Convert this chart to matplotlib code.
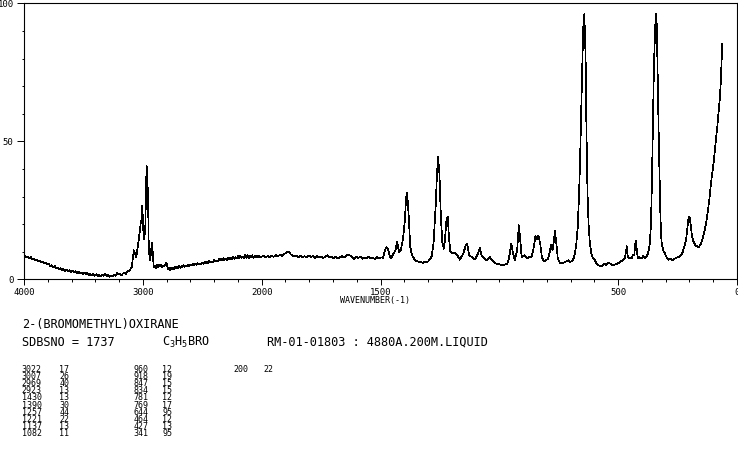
import numpy as np
import matplotlib
matplotlib.use("Agg")
import matplotlib.pyplot as plt
from matplotlib.ticker import FixedLocator, FixedFormatter, NullFormatter

plt.rcParams['font.family'] = ['DejaVu Sans Mono', 'DejaVu Sans']
plt.rcParams['mathtext.fontset'] = 'dejavusans'

# ---------------- text ----------------
compound_name = "2-(BROMOMETHYL)OXIRANE"
sdbs_no = "SDBSNO = 1737"
formula = r"$\mathtt{C_3H_5BRO}$"
conditions = "RM-01-01803 : 4880A.200M.LIQUID"
x_label = "WAVENUMBER(-1)"

x_major_ticks = [4000, 3000, 2000, 1500, 500, 0]
x_major_labels = ["4000", "3000", "2000", "1500", "500", "0"]
x_minor_ticks = list(range(4000, 2000, -200)) + list(range(2000, -1, -100))
y_major_ticks = [0, 50, 100]
y_major_labels = ["0", "50", "100"]
y_minor_ticks = list(range(0, 101, 10))

# peak table (wavenumber, intensity) columns
peak_wn_1 = [3022, 3007, 2969, 2923, 1430, 1390, 1257, 1221, 1137, 1082]
peak_int_1 = [17, 26, 40, 13, 13, 30, 44, 22, 13, 11]
peak_wn_2 = [960, 918, 847, 834, 781, 769, 644, 464, 427, 341]
peak_int_2 = [12, 19, 15, 15, 12, 17, 95, 12, 13, 95]
peak_wn_3 = [200]
peak_int_3 = [22]

# ---------------- spectrum (wavenumber, intensity) ----------------
spec_high = [
    (4000, 8.1), (3990, 8.6), (3980, 7.9), (3968, 8.3), (3955, 7.7), (3942, 8.0),
    (3930, 7.3), (3918, 7.6), (3905, 7.0), (3892, 7.2), (3880, 6.6), (3868, 6.8),
    (3855, 6.2), (3842, 6.4), (3830, 5.8), (3818, 5.9), (3805, 5.3), (3792, 5.6),
    (3780, 4.9), (3768, 5.1), (3755, 4.4), (3742, 4.8), (3730, 4.0), (3718, 4.3),
    (3705, 3.7), (3692, 4.0), (3680, 3.4), (3668, 3.7), (3655, 3.1), (3642, 3.5),
    (3630, 2.9), (3618, 3.3), (3605, 2.7), (3592, 3.1), (3580, 2.6), (3568, 2.9),
    (3555, 2.3), (3542, 2.7), (3530, 2.1), (3518, 2.5), (3505, 2.0), (3492, 2.4),
    (3480, 1.8), (3468, 2.2), (3455, 1.6), (3442, 2.0), (3430, 1.4), (3418, 1.9),
    (3405, 1.3), (3392, 1.8), (3380, 1.2), (3368, 1.6), (3355, 1.1), (3342, 1.7),
    (3330, 1.3), (3318, 1.9), (3305, 1.2), (3292, 1.5), (3280, 0.9), (3268, 1.2),
    (3255, 1.0), (3242, 1.6), (3230, 1.3), (3218, 2.2), (3205, 1.7), (3192, 1.9),
    (3180, 1.4), (3168, 2.1), (3155, 2.3), (3142, 2.0), (3128, 2.9), (3115, 3.1),
    (3102, 3.8), (3092, 4.6), (3085, 7.5), (3075, 10.5), (3066, 9.5), (3056, 8.0),
    (3045, 11.0), (3035, 14.0), (3024, 18.0), (3016, 21.0), (3012, 20.5), (3006, 26.5),
    (2999, 22.0), (2993, 14.5), (2986, 15.5), (2979, 19.0), (2973, 33.0), (2968, 41.0),
    (2962, 36.0), (2956, 30.0), (2951, 14.0), (2945, 9.0), (2938, 7.0), (2930, 10.5),
    (2923, 13.3), (2916, 9.0), (2908, 4.5), (2900, 4.8), (2890, 4.0), (2882, 5.4),
    (2873, 4.5), (2865, 5.3), (2856, 4.6), (2848, 5.2), (2840, 4.3), (2830, 5.0),
    (2820, 4.6), (2812, 5.4), (2803, 5.9), (2796, 5.2), (2788, 3.6), (2780, 4.0),
    (2772, 3.4), (2763, 4.1), (2755, 3.7), (2746, 4.3), (2738, 3.8), (2730, 4.5),
    (2721, 4.0), (2712, 4.4), (2703, 4.1), (2695, 4.8), (2686, 4.2), (2678, 4.7),
    (2670, 4.4), (2660, 5.1), (2650, 4.5), (2640, 5.0), (2630, 4.7), (2620, 5.3),
    (2610, 4.9), (2600, 5.2), (2590, 5.0), (2580, 5.7), (2570, 5.1), (2560, 5.6),
    (2550, 5.3), (2540, 5.9), (2530, 5.4), (2520, 5.8), (2510, 5.5), (2500, 6.1),
    (2490, 5.6), (2480, 6.3), (2470, 5.8), (2460, 6.2), (2450, 5.9), (2440, 6.7),
    (2430, 6.1), (2420, 6.5), (2410, 6.2), (2400, 6.9), (2390, 6.4), (2380, 6.8),
    (2370, 6.5), (2360, 7.3), (2350, 6.8), (2340, 7.3), (2330, 6.9), (2320, 7.6),
    (2310, 7.1), (2300, 7.5), (2290, 7.0), (2280, 7.9), (2270, 7.2), (2260, 7.7),
    (2250, 7.3), (2240, 8.1), (2230, 7.4), (2220, 8.0), (2210, 7.6), (2200, 8.4),
    (2190, 7.5), (2180, 8.5), (2170, 7.7), (2160, 8.3), (2150, 7.6), (2140, 8.7),
    (2130, 7.8), (2120, 8.8), (2110, 7.6), (2100, 8.4), (2090, 7.9), (2080, 8.7),
    (2070, 7.8), (2060, 8.5), (2050, 8.0), (2040, 8.6), (2030, 7.9), (2020, 8.5),
    (2010, 8.0),
]

spec_mid = [
    (2000, 8.2), (1992, 8.6), (1984, 7.9), (1975, 8.4), (1966, 8.0), (1958, 8.6),
    (1950, 8.1), (1941, 8.8), (1932, 8.3), (1923, 8.9), (1914, 8.5), (1905, 9.2),
    (1897, 9.6), (1890, 10.0), (1884, 9.7), (1877, 9.0), (1870, 8.5), (1862, 8.3),
    (1854, 8.6), (1845, 8.1), (1836, 8.5), (1828, 7.9), (1820, 8.4), (1811, 8.0),
    (1802, 8.7), (1793, 8.1), (1785, 8.4), (1776, 7.8), (1768, 8.5), (1759, 8.0),
    (1750, 8.2), (1741, 7.7), (1732, 8.3), (1723, 8.7), (1715, 7.9), (1706, 8.1),
    (1697, 7.6), (1688, 8.3), (1680, 7.5), (1671, 8.0), (1662, 8.4), (1653, 7.9),
    (1644, 8.5), (1636, 9.0), (1628, 8.6), (1620, 8.0), (1611, 7.4), (1602, 8.1),
    (1594, 7.7), (1585, 8.2), (1576, 7.4), (1568, 7.9), (1559, 7.6), (1550, 8.1),
    (1541, 7.5), (1532, 7.8), (1524, 7.4), (1515, 8.0), (1506, 7.6), (1497, 7.9),
    (1489, 7.8), (1481, 10.5), (1475, 11.7),
    (1468, 11.0), (1464, 9.3), (1457, 7.5), (1447, 9.0), (1437, 10.5), (1430, 13.5),
    (1422, 9.9), (1415, 10.5), (1405, 14.7), (1398, 20.8), (1392, 29.8), (1388, 31.3),
    (1381, 22.6), (1375, 11.7), (1367, 8.7), (1355, 6.9), (1345, 6.5), (1334, 6.3),
    (1322, 6.0), (1313, 6.5), (1303, 6.2), (1295, 6.9), (1285, 8.3), (1277, 12.9),
    (1268, 26.2), (1263, 37.0), (1258, 44.3), (1252, 38.3), (1246, 22.6), (1240, 13.5),
    (1234, 11.1), (1229, 14.1), (1222, 22.0), (1217, 22.6), (1212, 15.3), (1206, 9.9),
    (1194, 9.3), (1185, 9.6), (1179, 9.0), (1166, 7.1), (1152, 9.3), (1141, 12.3),
    (1136, 13.0), (1127, 8.7), (1117, 8.1), (1103, 7.2), (1089, 9.3), (1082, 11.5),
    (1075, 8.7), (1068, 8.1), (1054, 6.9), (1040, 8.1), (1033, 7.2), (1019, 5.9),
    (1008, 5.6),
]

spec_low = [
    (998, 5.4), (988, 5.0), (977, 5.3), (968, 5.6), (963, 6.3), (956, 9.3),
    (950, 12.9), (942, 9.3), (935, 6.9), (925, 10.5), (918, 19.6), (913, 15.3),
    (906, 8.1), (900, 8.4), (893, 8.7), (886, 8.0), (879, 7.5), (872, 8.3),
    (865, 8.1), (860, 9.5), (855, 11.7), (848, 15.6), (843, 14.4), (836, 15.9),
    (828, 12.9), (821, 8.1), (815, 7.0), (809, 6.5), (802, 7.0), (795, 7.5),
    (789, 9.5), (783, 12.5), (776, 10.5), (770, 14.1), (766, 17.5), (760, 12.9),
    (754, 7.5), (745, 6.0), (733, 5.7), (725, 6.3), (716, 6.5), (708, 6.9),
    (702, 6.3), (695, 6.5), (688, 7.5), (682, 9.3), (676, 13.0), (670, 19.0),
    (665, 30.0), (661, 40.7), (657, 55.0), (654, 65.0), (651, 78.0), (648, 88.0),
    (645, 95.0), (643, 96.0), (640, 90.0), (637, 80.0), (634, 58.0), (631, 40.0),
    (628, 28.0), (624, 19.0), (619, 13.0), (613, 9.3), (605, 7.5), (598, 6.9),
    (590, 5.5), (580, 5.0), (570, 4.8), (560, 5.6), (550, 5.2), (542, 6.0),
    (530, 5.5), (520, 5.0), (514, 5.3), (500, 5.8), (486, 6.6), (478, 7.0),
    (472, 7.5), (467, 10.0), (464, 12.0), (461, 9.0), (456, 7.5), (450, 7.8),
    (444, 7.5), (438, 8.7), (432, 9.0), (428, 13.0), (425, 14.0), (421, 10.0),
    (417, 7.5), (410, 8.0), (402, 7.5), (395, 8.5), (388, 7.8), (381, 8.1),
    (374, 9.5), (367, 12.9), (362, 20.0), (358, 35.0), (354, 55.0), (350, 75.0),
    (346, 87.0), (342, 96.0), (339, 96.0), (336, 85.0), (332, 65.0), (329, 50.0),
    (325, 33.0), (322, 22.0), (318, 14.0), (314, 11.7), (308, 10.0), (303, 9.3),
    (296, 8.0), (289, 7.1), (280, 7.3), (270, 7.0), (261, 7.5), (250, 8.0),
    (240, 8.3), (230, 9.5), (222, 11.7), (215, 14.0), (210, 17.5), (206, 21.0),
    (202, 22.8), (198, 22.0), (194, 19.0), (190, 16.0), (185, 14.0), (180, 13.2),
    (175, 12.4), (170, 12.0), (165, 11.8), (160, 11.7), (155, 12.4), (149, 13.5),
    (143, 15.4), (136, 17.8), (129, 21.0), (122, 25.0), (115, 30.0), (108, 35.9),
    (100, 41.0), (93, 46.7), (88, 51.0), (83, 55.2), (78, 60.0), (73, 64.9),
    (69, 70.0), (66, 76.9), (62, 85.4),
]

spectrum = np.array(spec_high + spec_mid + spec_low, dtype=float)
wavenumber = spectrum[:, 0]
intensity = spectrum[:, 1]


# x scale: 4000-2000 compressed by a factor of two, 2000-0 linear
def fwd(w):
    w = np.asarray(w, dtype=float)
    return np.where(w > 2000, 2000 + (w - 2000) / 2.0, w)


def inv(t):
    t = np.asarray(t, dtype=float)
    return np.where(t > 2000, 2000 + (t - 2000) * 2.0, t)


W, H = 738, 457
fig = plt.figure(figsize=(W / 100, H / 100), dpi=100)
left, right, top, bottom = 24, 737, 3.3, 279.3
ax = fig.add_axes([left / W, 1 - bottom / H, (right - left) / W, (bottom - top) / H])
ax.set_xscale('function', functions=(fwd, inv))
ax.set_xlim(4000, 0)
ax.set_ylim(0, 100)

ax.plot(wavenumber, intensity, color='black', lw=0.5, antialiased=False)

for s in ax.spines.values():
    s.set_linewidth(0.8)
    s.set_color('black')

ax.xaxis.set_major_locator(FixedLocator(x_major_ticks))
ax.xaxis.set_major_formatter(FixedFormatter(x_major_labels))
ax.xaxis.set_minor_locator(FixedLocator(x_minor_ticks))
ax.xaxis.set_minor_formatter(NullFormatter())
ax.yaxis.set_major_locator(FixedLocator(y_major_ticks))
ax.yaxis.set_major_formatter(FixedFormatter(y_major_labels))
ax.yaxis.set_minor_locator(FixedLocator(y_minor_ticks))
ax.yaxis.set_minor_formatter(NullFormatter())

ax.tick_params(axis='x', which='major', direction='out', length=4.5, width=0.7,
               labelsize=6.5, pad=1.5, colors='black')
ax.tick_params(axis='x', which='minor', direction='out', length=1.8, width=0.7)
ax.tick_params(axis='y', which='major', direction='out', length=5.0, width=0.7,
               labelsize=6.5, pad=2.5, colors='black')
ax.tick_params(axis='y', which='minor', direction='out', length=1.7, width=0.7)

fig.text(375 / W, 1 - 301 / H, x_label, ha='center', va='center', fontsize=6)

# header lines
fig.text(21.7 / W, 1 - 328.3 / H, compound_name, ha='left', va='baseline', fontsize=8.6)
fig.text(21.7 / W, 1 - 345.7 / H, sdbs_no, ha='left', va='baseline', fontsize=8.6)
fig.text(161.7 / W, 1 - 345.7 / H, formula, ha='left', va='baseline', fontsize=8.6)
fig.text(266.7 / W, 1 - 345.7 / H, conditions, ha='left', va='baseline', fontsize=8.6)

# peak table, one text per cell
col_x = [21.7, 59.3, 133.3, 162.3, 233.3, 263.3]
columns = [(peak_wn_1, peak_int_1), (peak_wn_2, peak_int_2), (peak_wn_3, peak_int_3)]
for c, (wns, ints) in enumerate(columns):
    for r, (wv, iv) in enumerate(zip(wns, ints)):
        yb = 1 - (371.7 + r * 7.2) / H
        fig.text(col_x[2 * c] / W, yb, str(wv), ha='left', va='baseline', fontsize=6)
        fig.text(col_x[2 * c + 1] / W, yb, str(iv), ha='left', va='baseline', fontsize=6)

fig.savefig("out.png", dpi=100)
